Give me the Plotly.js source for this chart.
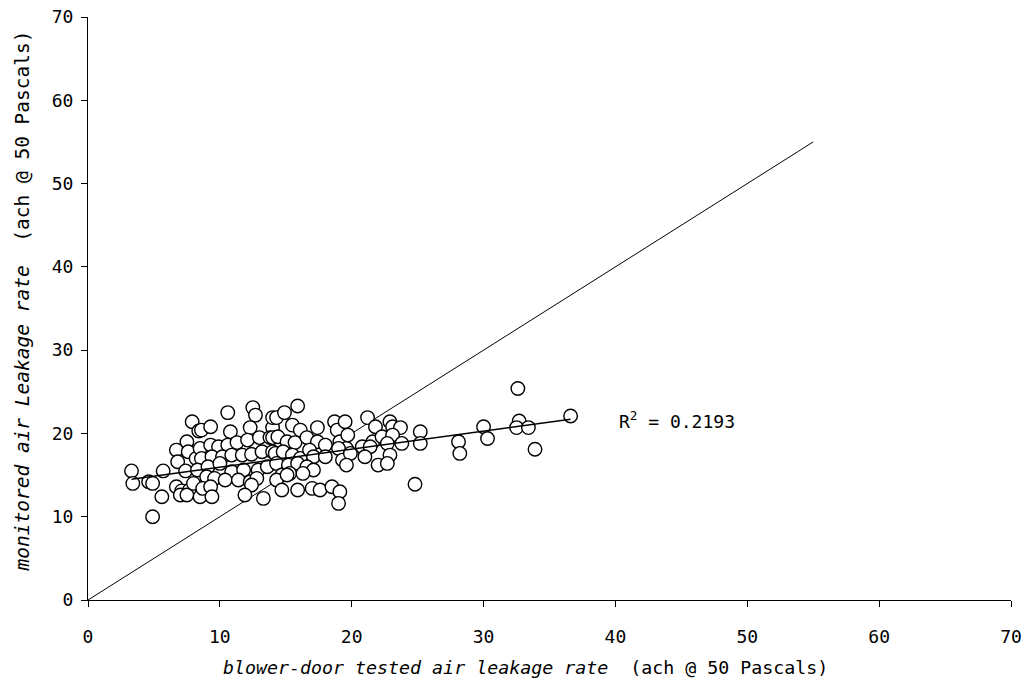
<!DOCTYPE html>
<html>
<head>
<meta charset="utf-8">
<script src="https://cdn.plot.ly/plotly-3.0.1.min.js"></script>
<style>html,body{margin:0;padding:0;background:#fff;}#chart{width:1030px;height:684px;}</style>
</head>
<body>
<div id="chart"></div>
<script>
// blower-door tested air leakage rate (ach @ 50 Pa)
const testedX = [
  7.9, 8.4, 7.5, 6.7, 7.6, 6.8, 8.2, 3.3, 5.7, 7.4, 3.4, 4.6, 4.9, 5.6, 6.7, 7.1, 7.0, 7.7, 7.5, 8.5, 4.9, 8.0,
  10.6, 12.5, 12.7, 8.6, 9.3, 10.8, 12.3, 14.0, 14.0, 8.5, 9.3, 9.9, 10.6, 11.3, 12.1, 13.0, 13.8,
  8.6, 9.4, 10.2, 10.9, 11.7, 12.4, 13.2, 14.0, 8.3, 9.1, 10.0, 10.9, 11.8, 12.9, 13.6,
  9.0, 9.6, 10.4, 11.4, 12.3, 12.8, 8.7, 9.3, 9.4, 12.4, 11.9, 13.3,
  15.9, 14.3, 14.9, 15.5, 16.1, 17.4, 18.7, 18.9, 19.5, 14.0, 14.4, 15.1, 15.7, 16.6, 17.4, 18.0, 19.1, 19.6,
  14.2, 14.8, 15.5, 16.1, 16.8, 17.1, 18.0, 19.0, 19.3, 14.3, 15.2, 15.9, 16.6, 17.1,
  14.7, 15.3, 16.3, 14.3, 15.1, 14.7, 15.9, 17.0, 17.6, 18.5, 19.1, 19.0,
  21.2, 21.8, 22.9, 23.1, 23.7, 25.2, 19.7, 21.6, 22.3, 23.1, 22.7, 23.8, 25.2, 20.8, 21.4,
  19.9, 21.0, 22.9, 19.6, 22.0, 22.7, 24.8,
  28.1, 28.2, 30.0, 30.3, 32.6, 32.7, 32.5, 33.4, 33.9, 36.6
];
// monitored air leakage rate (ach @ 50 Pa)
const monitoredY = [
  21.4, 20.3, 19.0, 18.0, 17.8, 16.6, 17.0, 15.5, 15.5, 15.5, 14.0, 14.2, 14.0, 12.4, 13.6, 13.1, 12.6, 13.2, 12.6, 12.4, 10.0, 14.0,
  22.5, 23.1, 22.2, 20.4, 20.8, 20.2, 20.7, 20.7, 21.9, 18.2, 18.6, 18.4, 18.6, 18.9, 19.2, 19.5, 19.5,
  17.0, 17.2, 17.2, 17.4, 17.4, 17.5, 17.8, 17.8, 15.6, 16.0, 16.4, 15.4, 15.6, 15.6, 16.0,
  14.8, 14.6, 14.4, 14.4, 14.2, 14.6, 13.4, 13.6, 12.4, 13.8, 12.6, 12.2,
  23.3, 21.9, 22.5, 21.0, 20.4, 20.7, 21.4, 20.4, 21.4, 19.5, 19.6, 19.0, 18.9, 19.5, 19.0, 18.6, 19.0, 18.2,
  17.6, 17.8, 17.4, 17.0, 18.0, 17.2, 17.2, 18.2, 16.8, 16.4, 16.2, 16.4, 16.0, 15.6,
  15.0, 15.2, 15.2, 14.4, 15.0, 13.2, 13.2, 13.4, 13.2, 13.6, 13.0, 11.6,
  21.9, 20.8, 21.4, 20.8, 20.7, 20.2, 19.8, 19.0, 19.6, 19.8, 18.8, 18.8, 18.8, 18.4, 18.4,
  17.6, 17.2, 17.4, 16.2, 16.2, 16.4, 13.9,
  19.0, 17.6, 20.8, 19.4, 25.4, 21.5, 20.7, 20.7, 18.1, 22.1
];
// linear trend line endpoints and 1:1 line
const trendX = [3.3, 36.6];
const trendY = [14.5, 21.7];
const equalX = [0, 55];
const equalY = [0, 55];
const r2Label = "R<sup>2</sup> = 0.2193";
const r2Pos = [40.1, 21.6];
const xTicks = [0, 10, 20, 30, 40, 50, 60, 70];
const yTicks = [0, 10, 20, 30, 40, 50, 60, 70];

const FONT = "DejaVu Sans Mono, Liberation Mono, monospace";

const traces = [
  {x: equalX, y: equalY, mode: "lines", line: {color: "#000", width: 1}, hoverinfo: "skip", showlegend: false},
  {x: testedX, y: monitoredY, mode: "markers", type: "scatter",
   marker: {size: 13.5, color: "#fff", line: {color: "#000", width: 1.4}}, showlegend: false},
  {x: trendX, y: trendY, mode: "lines", line: {color: "#000", width: 1.4}, hoverinfo: "skip", showlegend: false}
];

const axisCommon = {
  range: [0, 70], tickvals: xTicks, ticktext: xTicks.map(String),
  showgrid: false, zeroline: false, showline: true, linecolor: "#000", linewidth: 1,
  ticks: "outside", ticklen: 6, tickcolor: "#000", tickwidth: 1,
  tickfont: {family: FONT, size: 18, color: "#000"}, fixedrange: true
};

const layout = {
  width: 1030, height: 684,
  margin: {l: 88, r: 19, t: 17, b: 84},
  paper_bgcolor: "#fff", plot_bgcolor: "#fff",
  font: {family: FONT, size: 18, color: "#000"},
  xaxis: Object.assign({}, axisCommon, {ticklabelstandoff: 14}),
  yaxis: Object.assign({}, axisCommon, {tickvals: yTicks, ticktext: yTicks.map(String), ticklabelstandoff: 4}),
  showlegend: false,
  annotations: [
    {text: "<i>blower-door tested air leakage rate</i>  (ach @ 50 Pascals)", xref: "paper", yref: "paper",
     x: 0.4735, y: -0.115, xanchor: "center", yanchor: "middle", showarrow: false,
     font: {family: FONT, size: 18.3, color: "#000"}},
    {text: "<i>monitored air Leakage rate</i>  (ach @ 50 Pascals)", xref: "paper", yref: "paper",
     x: -0.0715, y: 0.512, xanchor: "center", yanchor: "middle", textangle: -90, showarrow: false,
     font: {family: FONT, size: 19.5, color: "#000"}},
    {text: r2Label, xref: "x", yref: "y", x: r2Pos[0], y: r2Pos[1], xanchor: "left", yanchor: "middle",
     showarrow: false, font: {family: FONT, size: 18, color: "#000"}}
  ]
};

Plotly.newPlot("chart", traces, layout, {staticPlot: true, displayModeBar: false});
</script>
</body>
</html>
